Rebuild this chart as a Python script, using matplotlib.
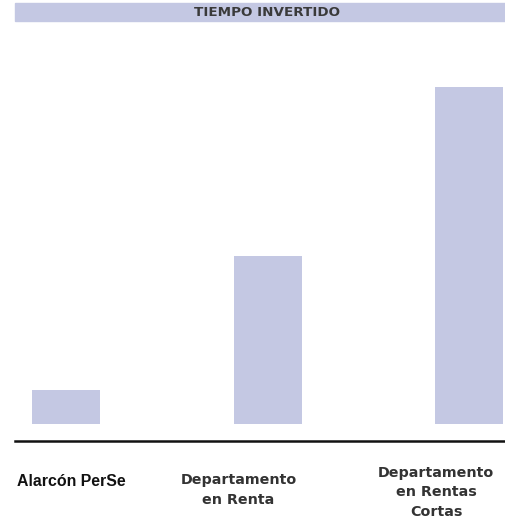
import matplotlib
matplotlib.use('Agg')
import matplotlib.pyplot as plt
from matplotlib.patches import Rectangle
from matplotlib.lines import Line2D

# chart data
title = 'TIEMPO INVERTIDO'
categories = ['Alarcón PerSe', 'Departamento\nen Renta', 'Departamento\nen Rentas\nCortas']
values = [1, 5, 10]

bar_color = '#c4c8e3'
W, H = 506, 521
fig = plt.figure(figsize=(W / 100, H / 100), dpi=100)


def fx(px):
    return px / W


def fy(py):
    return 1 - py / H


# title banner
fig.patches.append(Rectangle((fx(15), fy(20.5)), fx(506) - fx(15), fy(3) - fy(20.5),
                             transform=fig.transFigure, color=bar_color, zorder=0))
fig.text(fx(267), fy(12.5), title, ha='center', va='center', fontsize=9.7,
         fontweight='bold', color='#3a3a3a', family='DejaVu Sans')

# bars: x=0 at 66px, spacing 201.75px; y=0 at 424px, 33.7px per unit
ax = fig.add_axes([fx(15), fy(424), fx(506) - fx(15), fy(80) - fy(424)])
ax.bar(range(len(values)), values, width=68 / 201.75, color=bar_color)
ax.set_xlim(-(66 - 15) / 201.75, 2 + (506 - 469.5) / 201.75)
ax.set_ylim(0, (424 - 80) / 33.7)
ax.axis('off')

# baseline
fig.add_artist(Line2D([fx(15), fx(506)], [fy(441), fy(441)], transform=fig.transFigure,
                      color='#111111', linewidth=1.8))

# category labels
label_pos = [(71, 482), (238.5, 490), (436, 492.5)]
for i, (name, (px, py)) in enumerate(zip(categories, label_pos)):
    if i == 0:
        fig.text(fx(px), fy(py), name, ha='center', va='center', fontsize=11.4,
                 fontweight='bold', color='#111111', family='Liberation Sans')
    else:
        fig.text(fx(px), fy(py), name, ha='center', va='center', fontsize=10.3,
                 fontweight='bold', color='#333333', family='DejaVu Sans',
                 linespacing=1.5)

plt.savefig('out.png', dpi=100)
plt.close()
